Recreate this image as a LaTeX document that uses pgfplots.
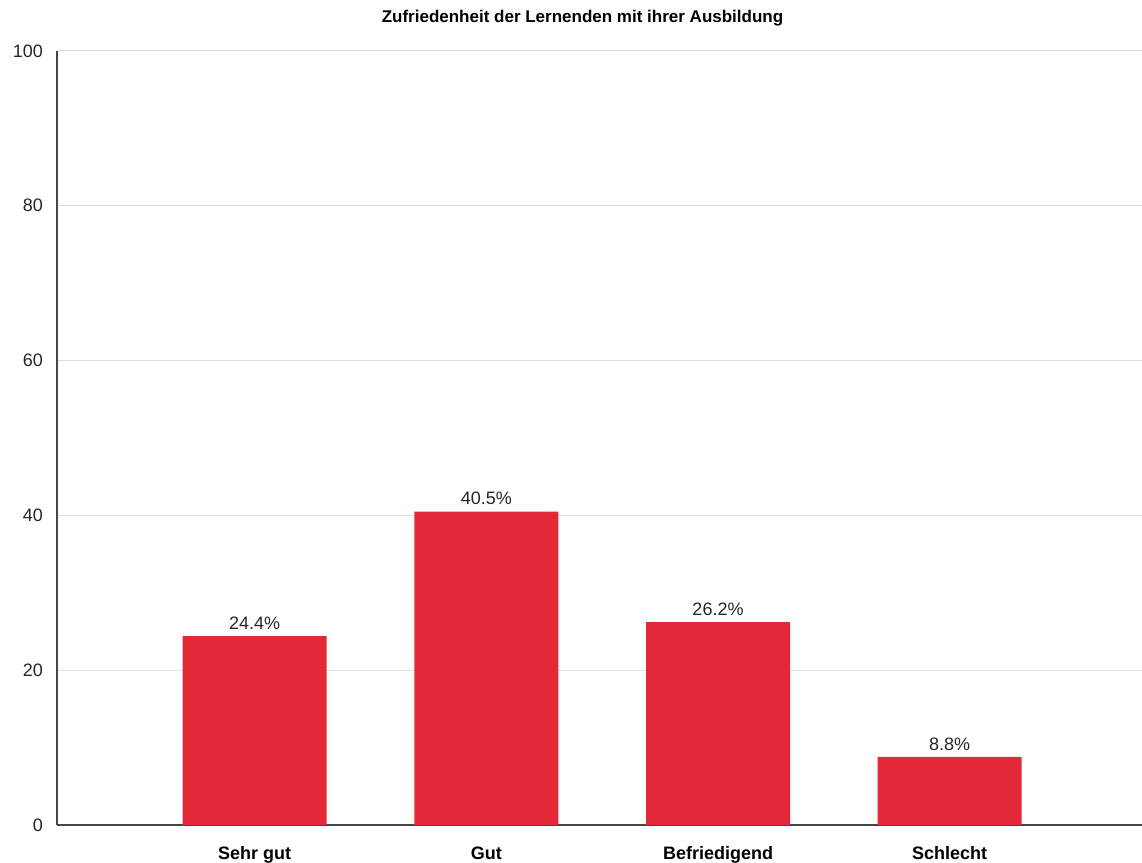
\documentclass[border=0pt]{standalone}
\usepackage{pgfplots}
\pgfplotsset{compat=1.18}
\usepackage{fontspec}
\setmainfont{Liberation Sans}
\definecolor{barred}{RGB}{227,41,56}
\definecolor{gridgray}{RGB}{224,224,224}
\definecolor{axisgray}{RGB}{70,70,70}
\begin{document}
\begin{tikzpicture}
\begin{axis}[
  scale only axis,
  width=542.5pt, height=387pt,
  ymin=0, ymax=100,
  ytick={0,20,40,60,80,100},
  xmin=-0.853, xmax=3.83,
  xtick=data,
  xticklabels={Sehr gut,Gut,Befriedigend,Schlecht},
  x tick label style={font=\fontsize{9}{10}\selectfont\bfseries, anchor=base, yshift=-17pt},
  y tick label style={font=\fontsize{9}{10}\selectfont, color=black!85, xshift=-3.5pt},
  /pgf/number format/assume math mode=true,
  ymajorgrids,
  grid style={gridgray, line width=0.5pt},
  axis x line*=bottom,
  axis y line*=left,
  axis line style={axisgray, line width=0.8pt},
  major tick length=0pt,
  title={Zufriedenheit der Lernenden mit ihrer Ausbildung},
  title style={font=\fontsize{8.5}{9}\selectfont\bfseries, at={(0.5,1)}, anchor=center, yshift=10.5pt, xshift=-8.5pt},
  ybar,
  bar width=72pt,
  nodes near coords={\pgfmathprintnumber[fixed,precision=1,fixed zerofill]{\pgfplotspointmeta}\%},
  nodes near coords style={font=\fontsize{9}{10}\selectfont, color=black!85, inner sep=1pt, yshift=2pt},
  clip=false,
]
\addplot[fill=barred, draw=none] coordinates {(0,24.4) (1,40.5) (2,26.2) (3,8.8)};
\path (rel axis cs:0,1) ++(-28.5pt,25.5pt) coordinate (tl);
\path (rel axis cs:1,0) ++(0pt,-19pt) coordinate (br);
\end{axis}
\pgfresetboundingbox
\path[use as bounding box] (tl) rectangle (br);
\end{tikzpicture}
\end{document}
